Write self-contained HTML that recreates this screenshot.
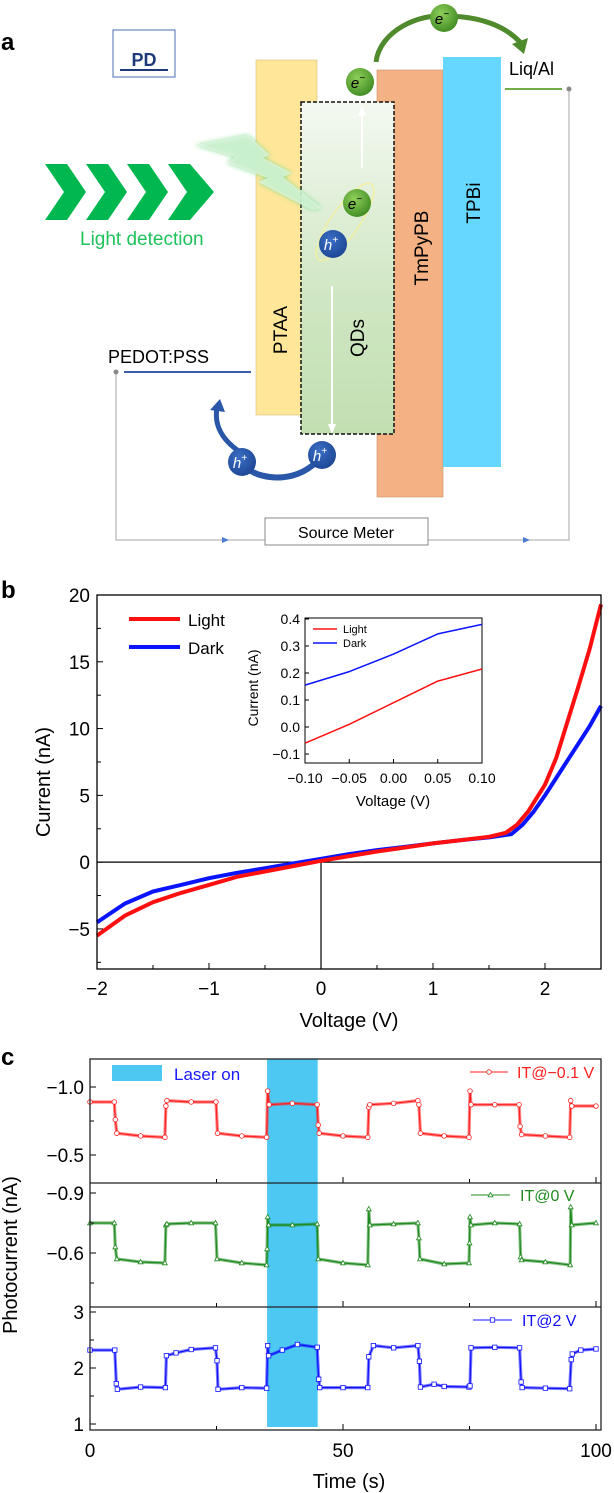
<!DOCTYPE html>
<html><head><meta charset="utf-8"><style>
html,body{margin:0;padding:0;background:#fff;}
svg{display:block;font-family:"Liberation Sans",Arial,sans-serif;}
</style></head><body>
<svg id="fig" width="614" height="1493" viewBox="0 0 614 1493" xmlns="http://www.w3.org/2000/svg">
<defs>
<linearGradient id="qdg" x1="0" y1="0" x2="0" y2="1"><stop offset="0" stop-color="#f4f9f1"/><stop offset="0.6" stop-color="#cfe6c2"/><stop offset="1" stop-color="#c2dfb2"/></linearGradient>
<radialGradient id="eg" cx="0.4" cy="0.35" r="0.7"><stop offset="0" stop-color="#8fcf5a"/><stop offset="1" stop-color="#3f8a22"/></radialGradient>
<radialGradient id="hg" cx="0.4" cy="0.35" r="0.7"><stop offset="0" stop-color="#3a6fc4"/><stop offset="1" stop-color="#1d4593"/></radialGradient>
<filter id="glow"><feGaussianBlur stdDeviation="2.5"/></filter>
</defs>

<!-- Panel a -->
<g>
<text x="1" y="50" font-size="24" font-weight="bold">a</text>
<rect x="113" y="30" width="62" height="47" fill="#fff" stroke="#4a6fb0" stroke-width="1"/>
<text x="144" y="66" font-size="18" font-weight="bold" fill="#1f3a7a" text-anchor="middle">PD</text>
<line x1="120" y1="70" x2="168" y2="70" stroke="#1f3a7a" stroke-width="2"/>
<rect x="256" y="60" width="61" height="355" fill="#ffe699" stroke="#d9c07a" stroke-width="0.6"/>
<rect x="377" y="70" width="66" height="427" fill="#f4b183" stroke="#c98f66" stroke-width="0.6"/>
<rect x="443" y="57" width="58" height="410" fill="#66d8ff"/>
<rect x="301" y="102" width="93" height="332" fill="url(#qdg)" stroke="#111" stroke-width="1.5" stroke-dasharray="4,2"/>
<text transform="translate(287,330) rotate(-90)" font-size="19" text-anchor="middle">PTAA</text>
<text transform="translate(364,338) rotate(-90)" font-size="19" text-anchor="middle">QDs</text>
<text transform="translate(428,248) rotate(-90)" font-size="19" text-anchor="middle">TmPyPB</text>
<text transform="translate(480,203) rotate(-90)" font-size="19" text-anchor="middle">TPBi</text>
<!-- white arrows -->
<line x1="362" y1="168" x2="362" y2="112" stroke="#fff" stroke-width="2"/>
<polygon points="358,116 362,106 366,116" fill="#fff"/>
<line x1="332" y1="286" x2="332" y2="428" stroke="#fff" stroke-width="2"/>
<polygon points="328,424 332,434 336,424" fill="#fff"/>
<!-- chevrons -->
<g fill="#00b84f">
<polygon points="45,164 67,164 86,192 67,220 45,220 64,192"/>
<polygon points="86,164 108,164 127,192 108,220 86,220 105,192"/>
<polygon points="127,164 149,164 168,192 149,220 127,220 146,192"/>
<polygon points="168,164 190,164 214,192 190,220 168,220 187,192"/>
</g>
<text x="80" y="245" font-size="19" fill="#1fc25a">Light detection</text>
<!-- lightning -->
<polygon points="195,145 248,135 270,155 263,158 292,173 283,177 322,208 312,210 258,182 268,178 227,163 235,157" fill="#7fdc8f" filter="url(#glow)" opacity="0.9"/>
<polygon points="195,145 248,135 270,155 263,158 292,173 283,177 322,208 312,210 258,182 268,178 227,163 235,157" fill="#e4f6e4" opacity="0.7"/>
<!-- electron arc -->
<path d="M376,62 C380,30 420,14 444,16 C480,16 505,26 520,42" fill="none" stroke="#4f8a2c" stroke-width="5"/>
<polygon points="512,44 528,38 524,54" fill="#4f8a2c"/>
<ellipse cx="345" cy="222" rx="14" ry="46" transform="rotate(35 345 222)" fill="none" stroke="#f2f0a0" stroke-width="1.5"/>
<g><circle cx="444" cy="18" r="14" fill="url(#eg)"/><text x="442" y="24" font-size="15" font-style="italic" text-anchor="middle">e<tspan font-size="10" dy="-7">−</tspan></text></g>
<g><circle cx="360" cy="82" r="14" fill="url(#eg)"/><text x="358" y="88" font-size="15" font-style="italic" text-anchor="middle">e<tspan font-size="10" dy="-7">−</tspan></text></g>
<g><circle cx="357" cy="203" r="14" fill="url(#eg)"/><text x="355" y="209" font-size="15" font-style="italic" text-anchor="middle">e<tspan font-size="10" dy="-7">−</tspan></text></g>
<g><circle cx="333" cy="244" r="14" fill="url(#hg)"/><text x="331" y="250" font-size="15" font-style="italic" fill="#fff" text-anchor="middle">h<tspan font-size="10" dy="-7">+</tspan></text></g>
<!-- hole hop arrow -->
<path d="M246,468 C265,482 300,482 320,458" fill="none" stroke="#2a57a8" stroke-width="6"/>
<path d="M240,452 C222,440 214,425 217,408" fill="none" stroke="#2a57a8" stroke-width="5"/>
<polygon points="210,410 220,399 225,412" fill="#2a57a8"/>
<g><circle cx="242" cy="462" r="14" fill="url(#hg)"/><text x="240" y="468" font-size="15" font-style="italic" fill="#fff" text-anchor="middle">h<tspan font-size="10" dy="-7">+</tspan></text></g>
<g><circle cx="322" cy="455" r="14" fill="url(#hg)"/><text x="320" y="461" font-size="15" font-style="italic" fill="#fff" text-anchor="middle">h<tspan font-size="10" dy="-7">+</tspan></text></g>
<!-- electrodes and circuit -->
<text x="509" y="75" font-size="18">Liq/Al</text>
<line x1="505" y1="89" x2="562" y2="89" stroke="#70ad47" stroke-width="2"/>
<text x="108" y="363" font-size="18">PEDOT:PSS</text>
<line x1="124" y1="372" x2="251" y2="372" stroke="#3a5ea8" stroke-width="2"/>
<g stroke="#a6a6a6" stroke-width="1" fill="none">
<polyline points="116,372 116,540 265,540"/>
<polyline points="428,540 569,540 569,89"/>
</g>
<circle cx="116" cy="372" r="2.5" fill="#888"/><circle cx="569" cy="89" r="2.5" fill="#888"/>
<polygon points="222,537 229,540 222,543" fill="#4a7bd0"/><polygon points="523,537 530,540 523,543" fill="#4a7bd0"/>
<rect x="265" y="518" width="163" height="27" fill="#fff" stroke="#888" stroke-width="1"/>
<text x="346" y="538" font-size="16" text-anchor="middle">Source Meter</text>
</g>

<g id="panelB"></g>
<g id="panelC"></g>
</svg>
<script>
// ---------- Panel b data ----------
const ivVoltage = [-2,-1.75,-1.5,-1.25,-1,-0.75,-0.5,-0.25,0,0.25,0.5,0.75,1,1.25,1.5,1.65,1.75,1.85,2.0,2.1,2.2,2.3,2.4,2.5];
const ivLight = [-5.5,-4.0,-3.0,-2.3,-1.7,-1.1,-0.7,-0.3,0.1,0.45,0.8,1.1,1.4,1.65,1.9,2.2,2.8,3.8,5.8,7.8,10.5,13.2,16.0,19.3];
const ivDarkV = [-2,-1.75,-1.5,-1.25,-1,-0.75,-0.5,-0.25,0,0.25,0.5,0.75,1,1.25,1.5,1.7,1.8,1.9,2.0,2.1,2.2,2.3,2.4,2.5];
const ivDark = [-4.5,-3.1,-2.2,-1.7,-1.2,-0.8,-0.45,-0.1,0.25,0.6,0.9,1.15,1.4,1.65,1.85,2.1,2.8,3.8,5.0,6.3,7.6,8.9,10.2,11.7];
const bXTicks = [-2,-1,0,1,2];
const bXTickLabels = ["−2","−1","0","1","2"];
const bYTicks = [-5,0,5,10,15,20];
const bYTickLabels = ["−5","0","5","10","15","20"];
const insetV = [-0.1,-0.05,0,0.05,0.1];
const insetLight = [-0.06,0.01,0.09,0.17,0.215];
const insetDark = [0.155,0.205,0.27,0.345,0.38];
const insetXTicks = [-0.1,-0.05,0,0.05,0.1];
const insetXTickLabels = ["−0.10","−0.05","0.00","0.05","0.10"];
const insetYTicks = [-0.1,0,0.1,0.2,0.3,0.4];
const insetYTickLabels = ["−0.1","0.0","0.1","0.2","0.3","0.4"];

// ---------- Panel c data ----------
const redT = [0,4.8,5.0,5.3,10,14.8,15.0,15.2,20,24.9,25.2,30,34.9,35.1,35.4,40,44.9,45.1,45.3,50,54.9,55.1,55.3,60,64.8,65.0,65.3,70,74.9,75.1,75.3,80,84.8,85.0,85.3,90,94.8,95.0,95.2,100];
const redI = [-0.89,-0.89,-0.76,-0.66,-0.64,-0.63,-0.86,-0.9,-0.89,-0.89,-0.66,-0.64,-0.63,-0.97,-0.87,-0.88,-0.87,-0.72,-0.66,-0.64,-0.63,-0.85,-0.87,-0.88,-0.9,-0.87,-0.66,-0.64,-0.63,-0.97,-0.87,-0.87,-0.87,-0.71,-0.65,-0.64,-0.63,-0.9,-0.86,-0.86];
const greenT = [0,4.8,5.0,5.3,10,14.8,15.0,15.2,20,24.8,25.1,30,34.9,35.0,35.1,35.3,40,44.9,45.1,50,54.9,55.1,55.3,60,64.8,65.0,65.2,70,74.9,75.0,75.1,75.3,80,84.9,85.1,85.3,90,94.9,95.0,95.2,100];
const greenI = [-0.75,-0.75,-0.63,-0.57,-0.555,-0.55,-0.74,-0.745,-0.75,-0.75,-0.57,-0.55,-0.54,-0.62,-0.78,-0.74,-0.74,-0.745,-0.57,-0.55,-0.54,-0.82,-0.74,-0.745,-0.75,-0.675,-0.57,-0.545,-0.55,-0.65,-0.78,-0.74,-0.75,-0.745,-0.58,-0.565,-0.555,-0.54,-0.83,-0.74,-0.75];
const blueT = [0,4.9,5.2,5.4,10,14.9,15.1,17,20,24.8,25.1,25.3,30,34.9,35.1,35.3,38,41,44.9,45.2,45.4,50,54.9,55.1,56,60,64.8,65.1,65.3,68,70,74.9,75.1,75.3,80,84.9,85.2,85.4,90,94.8,95.1,95.3,97,100];
const blueI = [2.32,2.32,1.72,1.62,1.66,1.65,2.22,2.27,2.33,2.36,2.13,1.62,1.65,1.64,2.40,2.22,2.32,2.42,2.37,1.80,1.65,1.65,1.65,2.2,2.4,2.36,2.4,2.12,1.66,1.71,1.67,1.66,1.68,2.36,2.37,2.36,1.75,1.65,1.64,1.63,2.15,2.25,2.32,2.34];
const cXTicks = [0,50,100];
const cXTickLabels = ["0","50","100"];
const redYTicks = [-1.0,-0.5];
const redYTickLabels = ["−1.0","−0.5"];
const greenYTicks = [-0.9,-0.6];
const greenYTickLabels = ["−0.9","−0.6"];
const blueYTicks = [3,2,1];
const blueYTickLabels = ["3","2","1"];
const laserOn = [35,45];

const NS = "http://www.w3.org/2000/svg";
function mk(parent, tag, attrs, text){
  const e = document.createElementNS(NS, tag);
  for (const k in attrs) e.setAttribute(k, attrs[k]);
  if (text !== undefined) e.textContent = text;
  parent.appendChild(e);
  return e;
}
function linMap(d0,d1,r0,r1){ return v => r0 + (v-d0)/(d1-d0)*(r1-r0); }

// ===== Panel b =====
(function(){
  const g = document.getElementById('panelB');
  const X = linMap(-2,2.5,97,601), Y = linMap(-8,20,969,595);
  let t = mk(g,'text',{x:1,y:598,'font-size':24,'font-weight':'bold'},'b');
  
  
  // zero lines
  mk(g,'line',{x1:X(-2),x2:X(2.5),y1:Y(0),y2:Y(0),stroke:'#000','stroke-width':1.2});
  mk(g,'line',{x1:X(0),x2:X(0),y1:Y(0),y2:Y(-8),stroke:'#000','stroke-width':1.2});
  function path(xs,ys,color,w,Xf,Yf){
    let d = xs.map((x,i)=>(i?'L':'M')+Xf(x).toFixed(1)+','+Yf(ys[i]).toFixed(1)).join(' ');
    return mk(g,'path',{d:d,fill:'none',stroke:color,'stroke-width':w,'stroke-linejoin':'round'});
  }
  let p = path(ivDarkV,ivDark,'#0a14ff',4,X,Y);
  
  
  p = path(ivVoltage,ivLight,'#ff1010',4,X,Y);
  
  
  const fr = mk(g,'rect',{x:97,y:595,width:504,height:374,fill:'none',stroke:'#000','stroke-width':1.3});
  
  
  bXTicks.forEach((v,i)=>{
    mk(g,'line',{x1:X(v),x2:X(v),y1:969,y2:963,stroke:'#000'});
    const tl = mk(g,'text',{x:X(v),y:995,'font-size':19,'text-anchor':'middle'},bXTickLabels[i]);
    
    
  });
  [-1.5,-0.5,0.5,1.5].forEach(v=>mk(g,'line',{x1:X(v),x2:X(v),y1:969,y2:965,stroke:'#000'}));
  bYTicks.forEach((v,i)=>{
    mk(g,'line',{x1:97,x2:103,y1:Y(v),y2:Y(v),stroke:'#000'});
    const tl = mk(g,'text',{x:90,y:Y(v)+7,'font-size':19,'text-anchor':'end'},bYTickLabels[i]);
    
    
  });
  [-7.5,-2.5,2.5,7.5,12.5,17.5].forEach(v=>mk(g,'line',{x1:97,x2:101,y1:Y(v),y2:Y(v),stroke:'#000'}));
  t = mk(g,'text',{x:349,y:1027,'font-size':20,'text-anchor':'middle'},'Voltage (V)');
  
  
  t = mk(g,'text',{x:0,y:0,'font-size':20,'text-anchor':'middle',transform:'translate(50,782) rotate(-90)'},'Current (nA)');
  
  
  // legend
  mk(g,'line',{x1:129,x2:180,y1:619,y2:619,stroke:'#ff1010','stroke-width':4});
  t = mk(g,'text',{x:188,y:626,'font-size':17},'Light');
  
  
  mk(g,'line',{x1:129,x2:180,y1:647,y2:647,stroke:'#0a14ff','stroke-width':4});
  t = mk(g,'text',{x:188,y:654,'font-size':17},'Dark');
  
  
  // inset
  const IX = linMap(-0.1,0.1,305,482), IY = linMap(0,0.4,727,619);
  const ig = mk(g,'g',{});
  
  
  mk(ig,'rect',{x:305,y:618,width:177,height:145,fill:'#fff',stroke:'#000','stroke-width':1});
  p = path(insetV,insetDark,'#0a14ff',1.5,IX,IY);
  
  
  p = path(insetV,insetLight,'#ff1010',1.5,IX,IY);
  
  
  insetXTicks.forEach((v,i)=>{
    mk(g,'line',{x1:IX(v),x2:IX(v),y1:763,y2:759,stroke:'#000'});
    const tl = mk(g,'text',{x:IX(v),y:783,'font-size':14,'text-anchor':'middle'},insetXTickLabels[i]);
    
    
  });
  insetYTicks.forEach((v,i)=>{
    mk(g,'line',{x1:305,x2:309,y1:IY(v),y2:IY(v),stroke:'#000'});
    const tl = mk(g,'text',{x:300,y:IY(v)+5,'font-size':14,'text-anchor':'end'},insetYTickLabels[i]);
    
    
  });
  t = mk(g,'text',{x:393,y:806,'font-size':15,'text-anchor':'middle'},'Voltage (V)');
  
  
  t = mk(g,'text',{x:0,y:0,'font-size':14,'text-anchor':'middle',transform:'translate(258,688) rotate(-90)'},'Current (nA)');
  
  
  mk(g,'line',{x1:313,x2:337,y1:629,y2:629,stroke:'#ff1010','stroke-width':1.5});
  t = mk(g,'text',{x:343,y:633,'font-size':11},'Light');
  
  
  mk(g,'line',{x1:313,x2:337,y1:643,y2:643,stroke:'#0a14ff','stroke-width':1.5});
  t = mk(g,'text',{x:343,y:647,'font-size':11},'Dark');
  
  
})();

// ===== Panel c =====
(function(){
  const g = document.getElementById('panelC');
  const X = linMap(0,100,90,596);
  const L=90, R=601;
  let t = mk(g,'text',{x:1,y:1065,'font-size':24,'font-weight':'bold'},'c');
  
  
  const band = mk(g,'rect',{x:X(laserOn[0]),y:1059,width:X(laserOn[1])-X(laserOn[0]),height:1427-1059,fill:'#4dc8f2'});
  
  
  const subs = [
    {t:redT,v:redI,col:'#ff2020',top:1059,bot:1183,Y:linMap(-1.0,-0.5,1087,1155),ticks:redYTicks,labels:redYTickLabels,minor:[-0.75],mk:'circle',name:'it-minus-0-1v',leg:'IT@−0.1 V',ly:1072,lx1:470,lx2:508,tx:517},
    {t:greenT,v:greenI,col:'#1f8a1f',top:1183,bot:1307,Y:linMap(-0.9,-0.6,1193,1253),ticks:greenYTicks,labels:greenYTickLabels,minor:[-0.75,-0.45],mk:'tri',name:'it-0v',leg:'IT@0 V',ly:1195,lx1:471,lx2:510,tx:520},
    {t:blueT,v:blueI,col:'#1010ff',top:1307,bot:1430,Y:linMap(2,3,1368,1312),ticks:blueYTicks,labels:blueYTickLabels,minor:[2.5,1.5],mk:'sq',name:'it-2v',leg:'IT@2 V',ly:1320,lx1:473,lx2:512,tx:522}
  ];
  subs.forEach(s=>{
    const sg = mk(g,'g',{});
    
    
    const d = s.t.map((x,i)=>(i?'L':'M')+X(x).toFixed(1)+','+s.Y(s.v[i]).toFixed(1)).join(' ');
    mk(sg,'path',{d:d,fill:'none',stroke:s.col,'stroke-width':1.2});
    // thick plateau look
    mk(sg,'path',{d:d,fill:'none',stroke:s.col,'stroke-width':3.2,opacity:0.55});
    s.t.forEach((x,i)=>{
      const cx=X(x), cy=s.Y(s.v[i]);
      if(s.mk==='circle') mk(sg,'circle',{cx:cx,cy:cy,r:2.3,fill:'#fff',stroke:s.col,'stroke-width':0.8});
      else if(s.mk==='tri') mk(sg,'polygon',{points:`${cx},${cy-2.6} ${cx-2.4},${cy+1.8} ${cx+2.4},${cy+1.8}`,fill:'#fff',stroke:s.col,'stroke-width':0.8});
      else mk(sg,'rect',{x:cx-2.2,y:cy-2.2,width:4.4,height:4.4,fill:'#fff',stroke:s.col,'stroke-width':0.8});
    });
    s.ticks.forEach((v,i)=>{
      mk(g,'line',{x1:L,x2:L+6,y1:s.Y(v),y2:s.Y(v),stroke:'#000'});
      const tl = mk(g,'text',{x:84,y:s.Y(v)+7,'font-size':19,'text-anchor':'end'},s.labels[i]);
      
      
    });
    s.minor.forEach(v=>mk(g,'line',{x1:L,x2:L+4,y1:s.Y(v),y2:s.Y(v),stroke:'#000'}));
    [0,25,50,75,100].forEach(v=>mk(g,'line',{x1:X(v),x2:X(v),y1:s.bot,y2:s.bot-(v%50===0?6:4),stroke:'#000'}));
    mk(g,'line',{x1:s.lx1,x2:s.lx2,y1:s.ly,y2:s.ly,stroke:s.col,'stroke-width':1});
    const mx=(s.lx1+s.lx2)/2;
    if(s.mk==='circle') mk(g,'circle',{cx:mx,cy:s.ly,r:2.3,fill:'#fff',stroke:s.col,'stroke-width':0.8});
    else if(s.mk==='tri') mk(g,'polygon',{points:`${mx},${s.ly-2.6} ${mx-2.4},${s.ly+1.8} ${mx+2.4},${s.ly+1.8}`,fill:'#fff',stroke:s.col,'stroke-width':0.8});
    else mk(g,'rect',{x:mx-2.2,y:s.ly-2.2,width:4.4,height:4.4,fill:'#fff',stroke:s.col,'stroke-width':0.8});
    const lt = mk(g,'text',{x:s.tx,y:s.ly+6,'font-size':16,fill:s.col},s.leg);
    
    
  });
  mk(g,'rect',{x:L,y:1059,width:R-L,height:1430-1059,fill:'none',stroke:'#222','stroke-width':1.3});
  mk(g,'line',{x1:L,x2:R,y1:1183,y2:1183,stroke:'#222','stroke-width':1.3});
  mk(g,'line',{x1:L,x2:R,y1:1307,y2:1307,stroke:'#222','stroke-width':1.3});
  cXTicks.forEach((v,i)=>{
    const tl = mk(g,'text',{x:X(v),y:1457,'font-size':19,'text-anchor':'middle'},cXTickLabels[i]);
    
    
  });
  t = mk(g,'text',{x:349,y:1488,'font-size':20,'text-anchor':'middle'},'Time (s)');
  
  
  t = mk(g,'text',{x:0,y:0,'font-size':20,'text-anchor':'middle',transform:'translate(17,1255) rotate(-90)'},'Photocurrent (nA)');
  
  
  const lr = mk(g,'rect',{x:112,y:1065,width:50,height:16,fill:'#4dc8f2'});
  
  
  t = mk(g,'text',{x:174,y:1080,'font-size':17,fill:'#1a1aff'},'Laser on');
  
  
})();
</script>
</body></html>
